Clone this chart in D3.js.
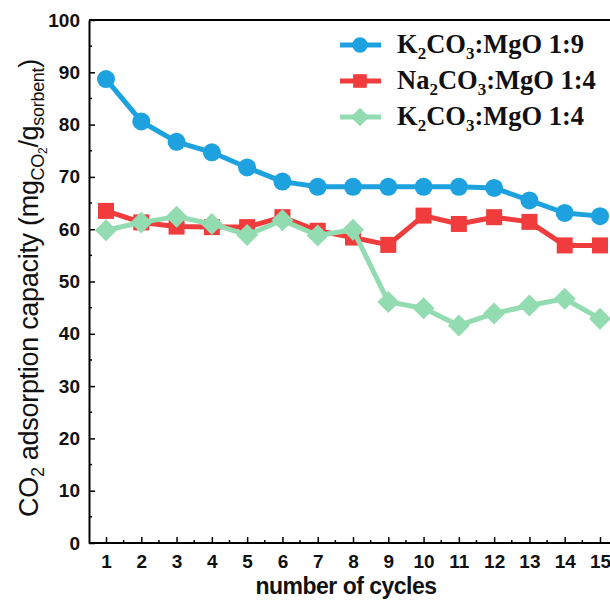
<!DOCTYPE html>
<html><head><meta charset="utf-8">
<script src="https://cdn.jsdelivr.net/npm/d3@7"></script>
<style>body{margin:0;background:#fff}</style>
</head><body>
<svg id="c" width="610" height="601"></svg>
<script>
const cycles = [1,2,3,4,5,6,7,8,9,10,11,12,13,14,15];
const k19 = [88.7,80.6,76.7,74.7,71.8,69.1,68.1,68.1,68.1,68.1,68.1,67.9,65.5,63.1,62.5];
const na14 = [63.5,61.3,60.5,60.4,60.4,62.3,59.7,58.4,57.0,62.6,61.0,62.3,61.4,56.9,56.9];
const k14 = [59.8,61.3,62.4,61.0,58.9,61.7,58.8,59.9,46.1,44.9,41.6,43.9,45.4,46.7,42.9];
const yTicks = [0,10,20,30,40,50,60,70,80,90,100];
const series = [
  {name:["K","2","CO","3",":MgO 1:9"], values:k19, color:"#1ea2df", shape:"circle"},
  {name:["Na","2","CO","3",":MgO 1:4"], values:na14, color:"#f03c3c", shape:"square"},
  {name:["K","2","CO","3",":MgO 1:4"], values:k14, color:"#93dcb1", shape:"diamond"}
];

const svg = d3.select("#c");
const x = d3.scaleLinear().domain([1,15]).range([106,600]);
const y = d3.scaleLinear().domain([0,100]).range([543,20]);
const pLeft = 89, pTop = 20, pBottom = 543, pRight = 620;

// frame
svg.append("line").attr("x1",pLeft).attr("x2",pRight).attr("y1",pTop).attr("y2",pTop).attr("stroke","#000").attr("stroke-width",2);

// y axis
const yAxis = svg.append("g").attr("transform",`translate(${pLeft},0)`)
  .call(d3.axisLeft(y).tickValues(yTicks).tickSizeInner(-6).tickSizeOuter(0).tickPadding(9));
yAxis.select(".domain").attr("stroke-width",2);
yAxis.selectAll(".tick line").attr("stroke-width",1.5);
yAxis.selectAll("text").attr("font-family","Liberation Sans, Arial, sans-serif").attr("font-weight","bold").attr("font-size",19).attr("fill","#111");
const yMinor = d3.range(5,100,10);
svg.append("g").selectAll("line").data(yMinor).join("line")
  .attr("x1",pLeft).attr("x2",pLeft+3).attr("y1",d=>y(d)).attr("y2",d=>y(d)).attr("stroke","#000").attr("stroke-width",1.5);

// x axis
const xAxis = svg.append("g").attr("transform",`translate(0,${pBottom})`)
  .call(d3.axisBottom(x).tickValues(cycles).tickFormat(d3.format("d")).tickSizeInner(-6).tickSizeOuter(0).tickPadding(12));
xAxis.select(".domain").attr("d",`M${pLeft},0H${pRight}`).attr("stroke-width",2);
xAxis.selectAll(".tick line").attr("stroke-width",1.5);
xAxis.selectAll("text").attr("font-family","Liberation Sans, Arial, sans-serif").attr("font-weight","bold").attr("font-size",19).attr("fill","#111");
const xMinor = d3.range(1.5,15.6,1);
svg.append("g").selectAll("line").data(xMinor).join("line")
  .attr("x1",d=>x(d)).attr("x2",d=>x(d)).attr("y1",pBottom).attr("y2",pBottom-3).attr("stroke","#000").attr("stroke-width",1.5);

// axis titles
svg.append("text").attr("x",346).attr("y",594).attr("text-anchor","middle")
  .attr("font-family","Liberation Sans, Arial, sans-serif").attr("font-weight","bold").attr("font-size",23).attr("letter-spacing",-0.5).attr("fill","#111")
  .text("number of cycles");
const yt = svg.append("text").attr("transform","translate(38,288) rotate(-90)").attr("text-anchor","middle")
  .attr("font-family","Liberation Sans, Arial, sans-serif").attr("font-size",27).attr("letter-spacing",-0.3).attr("fill","#111");
yt.append("tspan").text("CO");
yt.append("tspan").attr("dy",6).attr("font-size",18).text("2");
yt.append("tspan").attr("dy",-6).text(" adsorption capacity (mg");
yt.append("tspan").attr("dy",6).attr("font-size",18).text("CO");
yt.append("tspan").attr("dy",3).attr("font-size",12).text("2");
yt.append("tspan").attr("dy",-9).text("/g");
yt.append("tspan").attr("dy",6).attr("font-size",18).text("sorbent");
yt.append("tspan").attr("dy",-6).text(")");

function marker(g, shape, color, k){
  if(shape==="circle") g.append("circle").attr("r",9*k).attr("fill",color);
  else if(shape==="square") g.append("rect").attr("x",-8*k).attr("y",-8*k).attr("width",16*k).attr("height",16*k).attr("fill",color);
  else g.append("path").attr("d",`M0,${-11*k}L${11*k},0L0,${11*k}L${-11*k},0Z`).attr("fill",color);
}

const line = d3.line().x((d,i)=>x(cycles[i])).y(d=>y(d));
const order = [1,2,0];
order.forEach(si=>{
  const s = series[si];
  const g = svg.append("g");
  g.append("path").attr("d",line(s.values)).attr("fill","none").attr("stroke",s.color).attr("stroke-width",5).attr("stroke-linejoin","round");
  s.values.forEach((v,i)=>{
    const m = g.append("g").attr("transform",`translate(${x(cycles[i])},${y(v)})`);
    marker(m, s.shape, s.color, 1);
  });
});

// legend
const ly = [45,81,117];
series.forEach((s,i)=>{
  const g = svg.append("g").attr("transform",`translate(0,${ly[i]})`);
  g.append("line").attr("x1",340).attr("x2",381).attr("stroke",s.color).attr("stroke-width",5);
  const m = g.append("g").attr("transform","translate(360,0)");
  marker(m, s.shape, s.color, 0.85);
  const t = g.append("text").attr("x",397).attr("y",8).attr("font-family","Liberation Serif, Times New Roman, serif").attr("font-weight","bold").attr("font-size",26.5).attr("fill","#111");
  t.append("tspan").text(s.name[0]);
  t.append("tspan").attr("dy",6).attr("font-size",17).text(s.name[1]);
  t.append("tspan").attr("dy",-6).text(s.name[2]);
  t.append("tspan").attr("dy",6).attr("font-size",17).text(s.name[3]);
  t.append("tspan").attr("dy",-6).text(s.name[4]);
});
</script>
</body></html>
